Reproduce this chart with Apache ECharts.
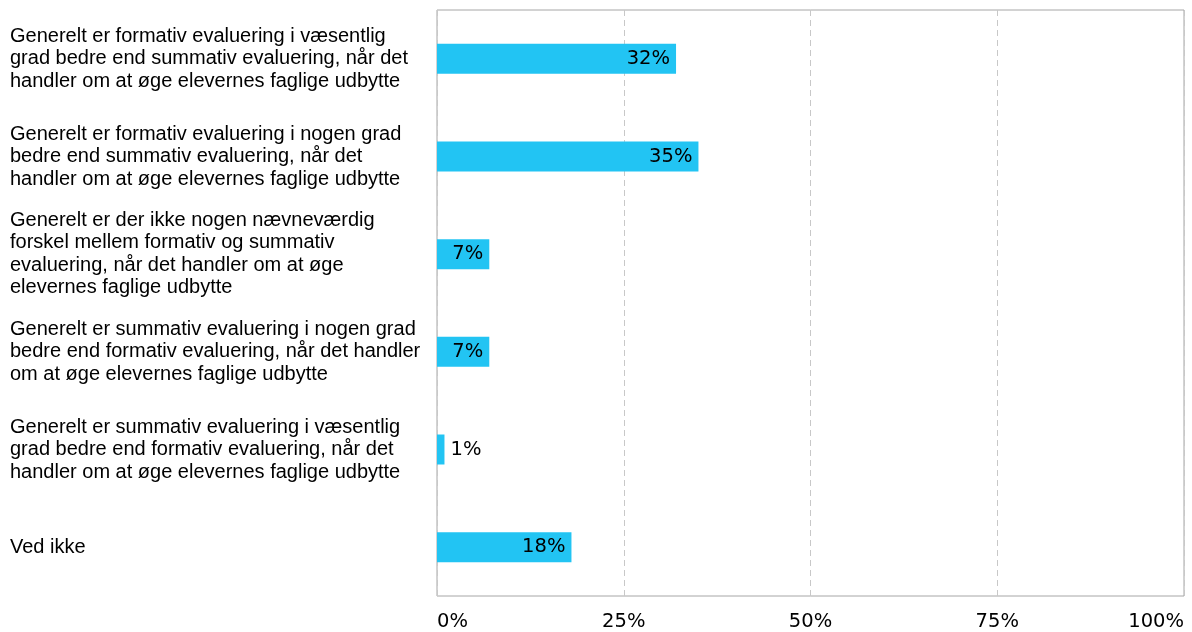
<!DOCTYPE html>
<html>
<head>
<meta charset="utf-8">
<script src="https://cdn.jsdelivr.net/npm/echarts@6/dist/echarts.min.js"></script>
<style>
  html, body { margin: 0; padding: 0; background: #fff; }
  #chart { width: 1192px; height: 632px; }
</style>
</head>
<body>
<div id="chart"></div>
<script>
const categories = [
  'Generelt er formativ evaluering i væsentlig\ngrad bedre end summativ evaluering, når det\nhandler om at øge elevernes faglige udbytte',
  'Generelt er formativ evaluering i nogen grad\nbedre end summativ evaluering, når det\nhandler om at øge elevernes faglige udbytte',
  'Generelt er der ikke nogen nævneværdig\nforskel mellem formativ og summativ\nevaluering, når det handler om at øge\nelevernes faglige udbytte',
  'Generelt er summativ evaluering i nogen grad\nbedre end formativ evaluering, når det handler\nom at øge elevernes faglige udbytte',
  'Generelt er summativ evaluering i væsentlig\ngrad bedre end formativ evaluering, når det\nhandler om at øge elevernes faglige udbytte',
  'Ved ikke'
]
const values = [32, 35, 7, 7, 1, 18]
const xTicks = [0, 25, 50, 75, 100]

const chart = echarts.init(document.getElementById('chart'))

chart.setOption({
  animation: false,
  grid: {
    show: true,
    left: 437, right: 8, top: 10, bottom: 36,
    outerBoundsMode: 'none',
    containLabel: false,
    borderColor: '#a6a6a6',
    borderWidth: 1,
  },
  xAxis: {
    type: 'value',
    min: xTicks[0],
    max: xTicks[xTicks.length - 1],
    interval: 25,
    axisLine: { show: false },
    axisTick: { show: false },
    axisLabel: {
      color: '#000',
      fontFamily: 'DejaVu Sans',
      fontSize: 19.5,
      margin: 16,
      alignMinLabel: 'left',
      alignMaxLabel: 'right',
      formatter: '{value}%',
    },
    splitLine: { lineStyle: { color: '#c8c8c8', type: [6, 4], width: 1 } },
  },
  yAxis: {
    type: 'category',
    inverse: true,
    data: categories,
    axisLine: { show: false },
    axisTick: { show: false },
    axisLabel: {
      color: '#000',
      fontFamily: 'Liberation Sans',
      fontSize: 20,
      lineHeight: 22.5,
      align: 'left',
      margin: 427,
    },
  },
  series: [{
    type: 'bar',
    barWidth: 30,
    data: values.map(v => ({
      value: v,
      label: { position: v >= 5 ? 'insideRight' : 'right' },
    })),
    itemStyle: { color: '#22c4f3' },
    label: {
      show: true,
      color: '#000',
      fontFamily: 'DejaVu Sans',
      fontSize: 19.5,
      distance: 6,
      formatter: '{c}%',
    },
  }],
})
</script>
</body>
</html>
